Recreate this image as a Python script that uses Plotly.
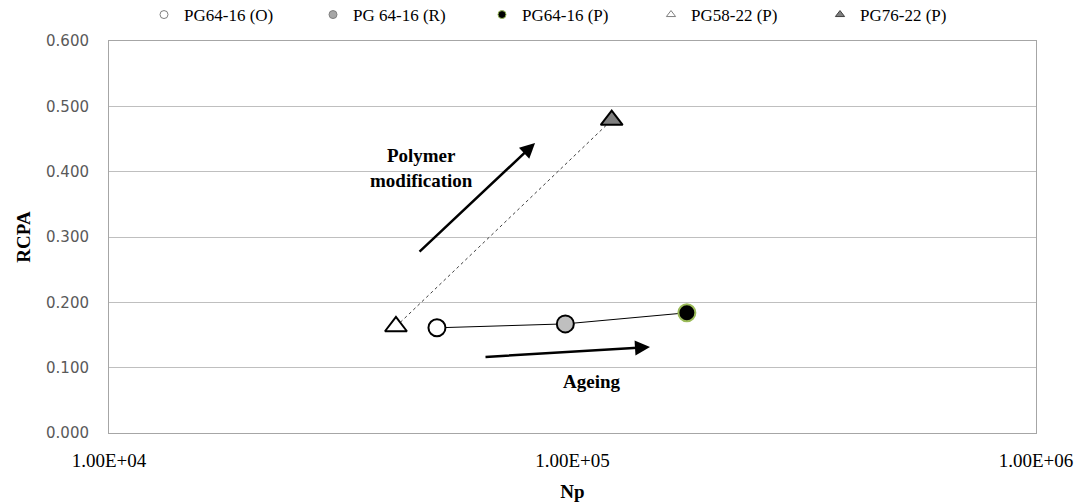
import plotly.graph_objects as go

# ---- data ----
series_names = ["PG64-16 (O)", "PG 64-16 (R)", "PG64-16 (P)", "PG58-22 (P)", "PG76-22 (P)"]
np_values = [51000, 96500, 176500, 41600, 121500]
rcpa_values = [0.161, 0.167, 0.184, 0.163, 0.479]

ageing_idx = [0, 1, 2]      # PG64-16 O -> R -> P (solid line)
polymer_idx = [3, 4]        # PG58-22 -> PG76-22 (dotted line)

x_tickvals = [1e4, 1e5, 1e6]
x_ticktext = ["1.00E+04", "1.00E+05", "1.00E+06"]
y_tickvals = [0, 0.1, 0.2, 0.3, 0.4, 0.5, 0.6]
y_ticktext = ["0.000", "0.100", "0.200", "0.300", "0.400", "0.500", "0.600"]

# ---- styles ----
styles = [
    dict(symbol="circle", color="white", line=dict(color="black", width=2)),
    dict(symbol="circle", color="#BFBFBF", line=dict(color="black", width=2)),
    dict(symbol="circle", color="black", line=dict(color="#9BBB59", width=2)),
    dict(symbol="triangle-up", color="white", line=dict(color="black", width=2)),
    dict(symbol="triangle-up", color="#808080", line=dict(color="black", width=2)),
]
sizes = [17, 17, 17, 19, 19]
legend_styles = [
    dict(symbol="circle", color="white", line=dict(color="#7F7F7F", width=1)),
    dict(symbol="circle", color="#A6A6A6", line=dict(color="#7F7F7F", width=1)),
    dict(symbol="circle", color="black", line=dict(color="#9BBB59", width=1)),
    dict(symbol="triangle-up", color="white", line=dict(color="#7F7F7F", width=1)),
    dict(symbol="triangle-up", color="#7F7F7F", line=dict(color="#404040", width=1)),
]

SERIF = "Liberation Serif"

fig = go.Figure()

# connecting lines
fig.add_trace(go.Scatter(
    x=[np_values[i] for i in polymer_idx], y=[rcpa_values[i] for i in polymer_idx],
    mode="lines", line=dict(color="#404040", width=1, dash="dot"),
    showlegend=False, hoverinfo="skip"))
fig.add_trace(go.Scatter(
    x=[np_values[i] for i in ageing_idx], y=[rcpa_values[i] for i in ageing_idx],
    mode="lines", line=dict(color="black", width=1),
    showlegend=False, hoverinfo="skip"))

# data markers
for i, name in enumerate(series_names):
    fig.add_trace(go.Scatter(
        x=[np_values[i]], y=[rcpa_values[i]], mode="markers", name=name,
        marker=dict(size=sizes[i], **styles[i]), showlegend=False))

# legend entries (small symbols like the reference)
for i, name in enumerate(series_names):
    fig.add_trace(go.Scatter(
        x=[None], y=[None], mode="markers", name=name,
        marker=dict(size=8, **legend_styles[i]), showlegend=True))

# arrows and labels
fig.add_annotation(xref="paper", yref="paper", x=0.4596, y=0.7398,
                   ax=-117, ay=110, axref="pixel", ayref="pixel",
                   showarrow=True, arrowhead=2, arrowsize=1.2, arrowwidth=2.5,
                   arrowcolor="black", text="")
fig.add_annotation(xref="paper", yref="paper", x=0.5836, y=0.2194,
                   ax=-166, ay=10, showarrow=True, arrowhead=2, arrowsize=1.2,
                   arrowwidth=2.5, arrowcolor="black", text="")
fig.add_annotation(xref="paper", yref="paper",
                   x=(421 - 109) / 927, y=(433 - 168) / 392,
                   text="<b>Polymer<br>modification</b>", showarrow=False,
                   font=dict(family=SERIF, size=19, color="black"),
                   xanchor="center", yanchor="middle")
fig.add_annotation(xref="paper", yref="paper",
                   x=(592 - 109) / 927, y=(433 - 381) / 392,
                   text="<b>Ageing</b>", showarrow=False,
                   font=dict(family=SERIF, size=19, color="black"),
                   xanchor="center", yanchor="middle")

fig.update_layout(
    width=1082, height=503,
    margin=dict(l=109, r=46, t=41, b=70, autoexpand=False),
    paper_bgcolor="white", plot_bgcolor="white",
    showlegend=True,
    legend=dict(orientation="h", xref="container", yref="container",
                x=144 / 1082, xanchor="left", y=1 - 15 / 503, yanchor="middle",
                font=dict(family=SERIF, size=17, color="black"),
                entrywidth=124, entrywidthmode="pixels",
                itemwidth=30, bgcolor="rgba(0,0,0,0)", borderwidth=0),
    xaxis=dict(type="log", range=[4, 6], tickvals=x_tickvals, ticktext=x_ticktext,
               showgrid=False, zeroline=False,
               showline=True, linecolor="#A6A6A6", linewidth=1, mirror=True,
               ticks="", ticklabelstandoff=10,
               tickfont=dict(family=SERIF, size=19, color="black"),
               title=dict(text="<b>Np</b>", font=dict(family=SERIF, size=19, color="black"),
                          standoff=14)),
    yaxis=dict(range=[0, 0.6], tickvals=y_tickvals, ticktext=y_ticktext,
               showgrid=True, gridcolor="#BFBFBF", gridwidth=1, zeroline=False,
               showline=True, linecolor="#A6A6A6", linewidth=1, mirror=True,
               ticks="", ticklabelstandoff=16,
               tickfont=dict(family="DejaVu Sans", size=15, color="#595959"),
               title=dict(text="<b>RCPA</b>", font=dict(family=SERIF, size=19, color="black"),
                          standoff=10)),
)

fig.write_html("out.html")
